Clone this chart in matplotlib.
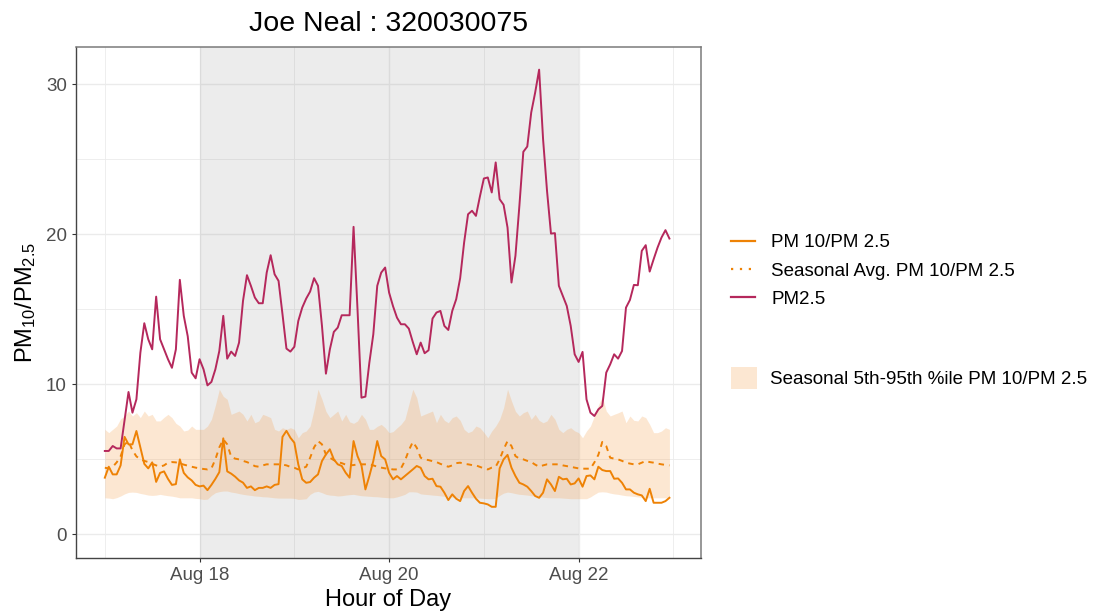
import matplotlib
matplotlib.use("Agg")
import matplotlib.pyplot as plt
import matplotlib.dates as mdates
from matplotlib.lines import Line2D
from matplotlib.patches import Patch
import pandas as pd

plt.rcParams['font.family'] = ['Liberation Sans', 'DejaVu Sans']
plt.rcParams['mathtext.default'] = 'regular'

# hourly values, Aug 17 00:00 -> Aug 22 23:00
pm25 = [5.56, 5.56, 5.89, 5.73, 5.73, 7.6, 9.49, 8.11, 9.0, 12.1, 14.07, 13.0,
        12.33, 15.84, 13.0, 12.33, 11.67, 11.1, 12.33, 16.96, 14.56, 13.2, 10.78, 10.4,
        11.67, 11.0, 9.93, 10.16, 11.0, 12.22, 14.56, 11.71, 12.18, 11.89, 12.78, 15.56,
        17.27, 16.56, 15.78, 15.4, 15.4, 17.44, 18.6, 17.33, 16.89, 14.67, 12.38, 12.18,
        12.5, 14.22, 15.11, 15.71, 16.18, 17.07, 16.56, 13.89, 10.71, 12.33, 13.49, 13.78,
        14.6, 14.6, 14.6, 20.49, 15.0, 9.11, 9.18, 11.44, 13.33, 16.56, 17.44, 17.78,
        16.11, 15.2, 14.44, 14.0, 14.0, 13.71, 12.82, 12.0, 12.78, 12.07, 12.27, 14.38,
        14.78, 14.89, 13.89, 13.62, 14.89, 15.67, 17.07, 19.44, 21.33, 21.56, 21.22, 22.51,
        23.71, 23.78, 22.78, 24.78, 22.33, 21.96, 20.44, 16.78, 18.56, 21.89, 25.49, 25.84,
        28.11, 29.44, 30.96, 26.33, 22.89, 20.04, 20.07, 16.56, 15.89, 15.22, 13.89, 12.0,
        11.49, 12.16, 9.0, 8.11, 7.89, 8.33, 8.56, 10.78, 11.33, 12.0, 11.71, 12.22,
        15.11, 15.62, 16.62, 16.6, 18.89, 19.27, 17.51, 18.33, 19.11, 19.78, 20.27, 19.71]

ratio = [3.78, 4.51, 4.0, 4.0, 4.6, 6.5, 6.0, 6.0, 6.89, 5.8, 4.7, 4.4,
         4.8, 3.5, 4.1, 4.2, 3.7, 3.3, 3.35, 5.0, 4.1, 3.8, 3.6, 3.3,
         3.2, 3.25, 2.95, 3.3, 3.7, 4.15, 6.4, 4.2, 4.05, 3.85, 3.6, 3.45,
         3.1, 3.2, 2.95, 3.1, 3.1, 3.2, 3.1, 3.3, 3.35, 6.5, 6.9, 6.44,
         6.11, 4.67, 3.67, 3.44, 3.49, 3.78, 4.0, 4.89, 5.33, 5.67, 5.0, 4.67,
         4.56, 4.11, 3.78, 6.22, 5.22, 4.6, 3.0, 3.89, 4.89, 6.22, 5.22, 5.0,
         4.11, 3.67, 3.89, 3.67, 3.89, 4.11, 4.33, 4.56, 4.44, 3.89, 3.67, 3.71,
         3.22, 3.18, 2.78, 2.29, 2.67, 2.38, 2.22, 2.89, 3.22, 2.78, 2.38, 2.11,
         2.07, 2.0, 1.84, 1.84, 4.4, 5.0, 5.3, 4.44, 3.89, 3.44, 3.33, 3.18,
         2.89, 2.56, 2.44, 2.78, 3.67, 3.33, 2.89, 3.84, 3.67, 3.71, 3.33, 3.4,
         3.73, 3.18, 3.89, 3.93, 3.67, 4.51, 4.29, 4.22, 4.22, 3.71, 3.73, 3.44,
         3.0, 3.0, 2.78, 2.67, 2.6, 2.22, 3.04, 2.11, 2.11, 2.11, 2.22, 2.44]

seas_avg = [4.44, 4.4, 4.5, 4.8, 5.2, 6.0, 6.2, 5.6, 5.2, 5.0, 4.9, 4.82,
            4.7, 4.6, 4.51, 4.6, 4.78, 4.82, 4.8, 4.73, 4.65, 4.58, 4.51, 4.45,
            4.4, 4.36, 4.33, 4.4, 5.0, 5.8, 6.33, 6.0, 5.18, 5.05, 5.0, 4.9,
            4.82, 4.7, 4.55, 4.51, 4.6, 4.67, 4.67, 4.67, 4.67, 4.65, 4.6, 4.5,
            4.44, 4.33, 4.4, 4.51, 5.11, 5.8, 6.22, 6.0, 5.33, 5.11, 4.95, 4.82,
            4.75, 4.65, 4.6, 4.62, 4.67, 4.67, 4.67, 4.67, 4.6, 4.51, 4.45, 4.4,
            4.38, 4.33, 4.33, 4.4, 4.9, 5.6, 6.16, 5.78, 5.11, 5.0, 4.95, 4.88,
            4.82, 4.7, 4.6, 4.51, 4.6, 4.75, 4.78, 4.7, 4.67, 4.62, 4.6, 4.5,
            4.4, 4.33, 4.45, 4.51, 5.0, 5.67, 6.22, 5.89, 5.22, 5.05, 5.0, 4.9,
            4.82, 4.65, 4.51, 4.6, 4.67, 4.67, 4.67, 4.67, 4.6, 4.55, 4.51, 4.45,
            4.4, 4.38, 4.38, 4.38, 4.8, 5.3, 6.16, 5.89, 5.11, 5.05, 5.0, 4.9,
            4.78, 4.72, 4.67, 4.67, 4.78, 4.89, 4.82, 4.78, 4.72, 4.67, 4.63, 4.6]

p95 = [7.0, 6.78, 7.0, 7.22, 7.7, 7.89, 8.22, 7.89, 8.11, 7.78, 8.22, 7.89,
       8.0, 7.56, 7.56, 7.8, 8.0, 7.78, 7.4, 7.22, 6.89, 6.95, 7.22, 7.0,
       7.0, 7.0, 7.22, 7.67, 8.6, 9.67, 9.2, 9.0, 8.0, 8.11, 8.22, 8.0,
       7.56, 8.0, 7.44, 7.56, 8.0, 7.9, 7.78, 7.0, 6.89, 7.11, 7.0, 7.11,
       7.0, 6.44, 6.78, 6.89, 7.22, 8.33, 9.67, 9.0, 8.2, 7.78, 8.0, 8.22,
       7.56, 8.0, 7.5, 7.4, 7.56, 8.0, 7.67, 7.0, 7.0, 7.2, 7.33, 7.11,
       6.78, 6.85, 7.1, 7.33, 7.67, 8.67, 9.67, 9.11, 7.89, 8.0, 8.11, 8.22,
       7.44, 8.0, 7.6, 7.44, 7.78, 7.89, 7.6, 7.0, 6.78, 6.89, 7.22, 7.11,
       6.8, 6.44, 6.89, 7.22, 7.67, 8.44, 9.67, 8.89, 8.2, 7.89, 8.11, 8.22,
       7.67, 8.0, 7.6, 7.44, 7.56, 8.0, 7.67, 7.0, 6.78, 7.0, 7.11, 6.9,
       6.78, 6.44, 6.89, 7.22, 7.89, 8.6, 9.2, 8.22, 7.89, 8.0, 8.1, 8.22,
       7.44, 7.89, 7.6, 7.56, 7.89, 7.78, 7.33, 6.78, 6.78, 6.89, 7.11, 7.0]

p5 = [2.44, 2.42, 2.38, 2.45, 2.56, 2.7, 2.8, 2.82, 2.8, 2.73, 2.68, 2.62,
      2.6, 2.62, 2.67, 2.62, 2.58, 2.55, 2.5, 2.44, 2.44, 2.44, 2.44, 2.4,
      2.38, 2.33, 2.35, 2.6, 2.78, 2.85, 2.89, 2.89, 2.82, 2.78, 2.72, 2.67,
      2.63, 2.6, 2.56, 2.54, 2.51, 2.5, 2.47, 2.44, 2.42, 2.42, 2.42, 2.42,
      2.4, 2.33, 2.35, 2.38, 2.67, 2.82, 2.87, 2.78, 2.67, 2.62, 2.6, 2.56,
      2.58, 2.62, 2.65, 2.67, 2.62, 2.58, 2.56, 2.54, 2.52, 2.51, 2.48, 2.46,
      2.44, 2.44, 2.5, 2.58, 2.67, 2.84, 2.84, 2.82, 2.7, 2.67, 2.65, 2.62,
      2.6, 2.57, 2.54, 2.51, 2.48, 2.46, 2.44, 2.44, 2.44, 2.44, 2.44, 2.42,
      2.4, 2.38, 2.38, 2.4, 2.6, 2.75, 2.82, 2.78, 2.72, 2.67, 2.65, 2.62,
      2.58, 2.56, 2.52, 2.48, 2.45, 2.44, 2.44, 2.44, 2.42, 2.4, 2.38, 2.38,
      2.38, 2.38, 2.38, 2.5, 2.67, 2.82, 2.84, 2.82, 2.75, 2.7, 2.67, 2.62,
      2.58, 2.56, 2.53, 2.5, 2.47, 2.44, 2.44, 2.44, 2.44, 2.44, 2.44, 2.44]

hours = pd.date_range("2023-08-17 00:00", periods=len(pm25), freq="h")
shade_start = pd.Timestamp("2023-08-18")
shade_end = pd.Timestamp("2023-08-22")

c_ratio = '#EE8205'
c_pm25 = '#B5285C'
c_band = '#F6A04D'

#-------------------------------------------------------------------------------

fig = plt.figure(figsize=(11.02, 6.13), dpi=100)
ax = fig.add_axes([76/1102, 1 - 557.7/613, (701 - 76)/1102, (557.7 - 47.3)/613])

ax.axvspan(shade_start, shade_end, color='grey', alpha=0.15, lw=0, zorder=1)
ax.fill_between(hours, p5, p95, color=c_band, alpha=0.25, lw=0, zorder=2)
ax.plot(hours, seas_avg, color=c_ratio, lw=1.4, ls=(0, (2.8, 2.6)), zorder=3)
ax.plot(hours, ratio, color=c_ratio, lw=1.4, zorder=4)
ax.plot(hours, pm25, color=c_pm25, lw=1.4, zorder=5)

ax.set_xlim(hours[0] - pd.Timedelta(hours=7.3), hours[0] + pd.Timedelta(hours=151))
ax.set_ylim(-1.55, 32.45)

ax.xaxis.set_major_locator(mdates.DayLocator(bymonthday=[18, 20, 22]))
ax.xaxis.set_minor_locator(mdates.DayLocator(bymonthday=[17, 19, 21, 23]))
ax.xaxis.set_major_formatter(mdates.DateFormatter('%b %d'))
ax.set_yticks([0, 10, 20, 30])
ax.set_yticks([5, 15, 25], minor=True)

ax.set_axisbelow(True)
ax.grid(which='major', color='#EBEBEB', lw=1.0)
ax.grid(which='minor', color='#EBEBEB', lw=0.6)
ax.tick_params(which='major', length=3.1, width=0.8, color='#333333',
               labelcolor='#4D4D4D', labelsize=13.5, pad=3.4)
ax.tick_params(which='minor', length=0)

for side in ['top', 'right']:
    ax.spines[side].set_color('#7A7A7A')
    ax.spines[side].set_linewidth(1.1)
for side in ['left', 'bottom']:
    ax.spines[side].set_color('#444444')
    ax.spines[side].set_linewidth(1.0)

ax.set_xlabel('Hour of Day', fontsize=17, labelpad=4)
ax.set_ylabel('PM$_{10}$/PM$_{2.5}$', fontsize=17, labelpad=6)
fig.text((76 + 701) / 2 / 1102, 1 - 24/613, 'Joe Neal : 320030075',
         fontsize=20.5, ha='center', va='center')

#-------------------------------------------------------------------------------

line_handles = [Line2D([], [], color=c_ratio, lw=1.6),
                Line2D([], [], color=c_ratio, lw=1.6, ls=(0, (1, 3))),
                Line2D([], [], color=c_pm25, lw=1.6)]
leg1 = fig.legend(line_handles,
                  ['PM 10/PM 2.5', 'Seasonal Avg. PM 10/PM 2.5', 'PM2.5'],
                  loc='upper left', bbox_to_anchor=(731/1102, 1 - 234/613),
                  frameon=False, fontsize=13.5, handlelength=1.3,
                  handletextpad=0.85, labelspacing=0.6, borderpad=0,
                  borderaxespad=0)
leg2 = fig.legend([Patch(facecolor=c_band, alpha=0.25, lw=0)],
                  ['Seasonal 5th-95th %ile PM 10/PM 2.5'],
                  loc='upper left', bbox_to_anchor=(731/1102, 1 - 367/613),
                  frameon=False, fontsize=13.5, handlelength=1.4,
                  handleheight=1.4, handletextpad=0.7, borderpad=0,
                  borderaxespad=0)

fig.savefig('out.png', dpi=100)
